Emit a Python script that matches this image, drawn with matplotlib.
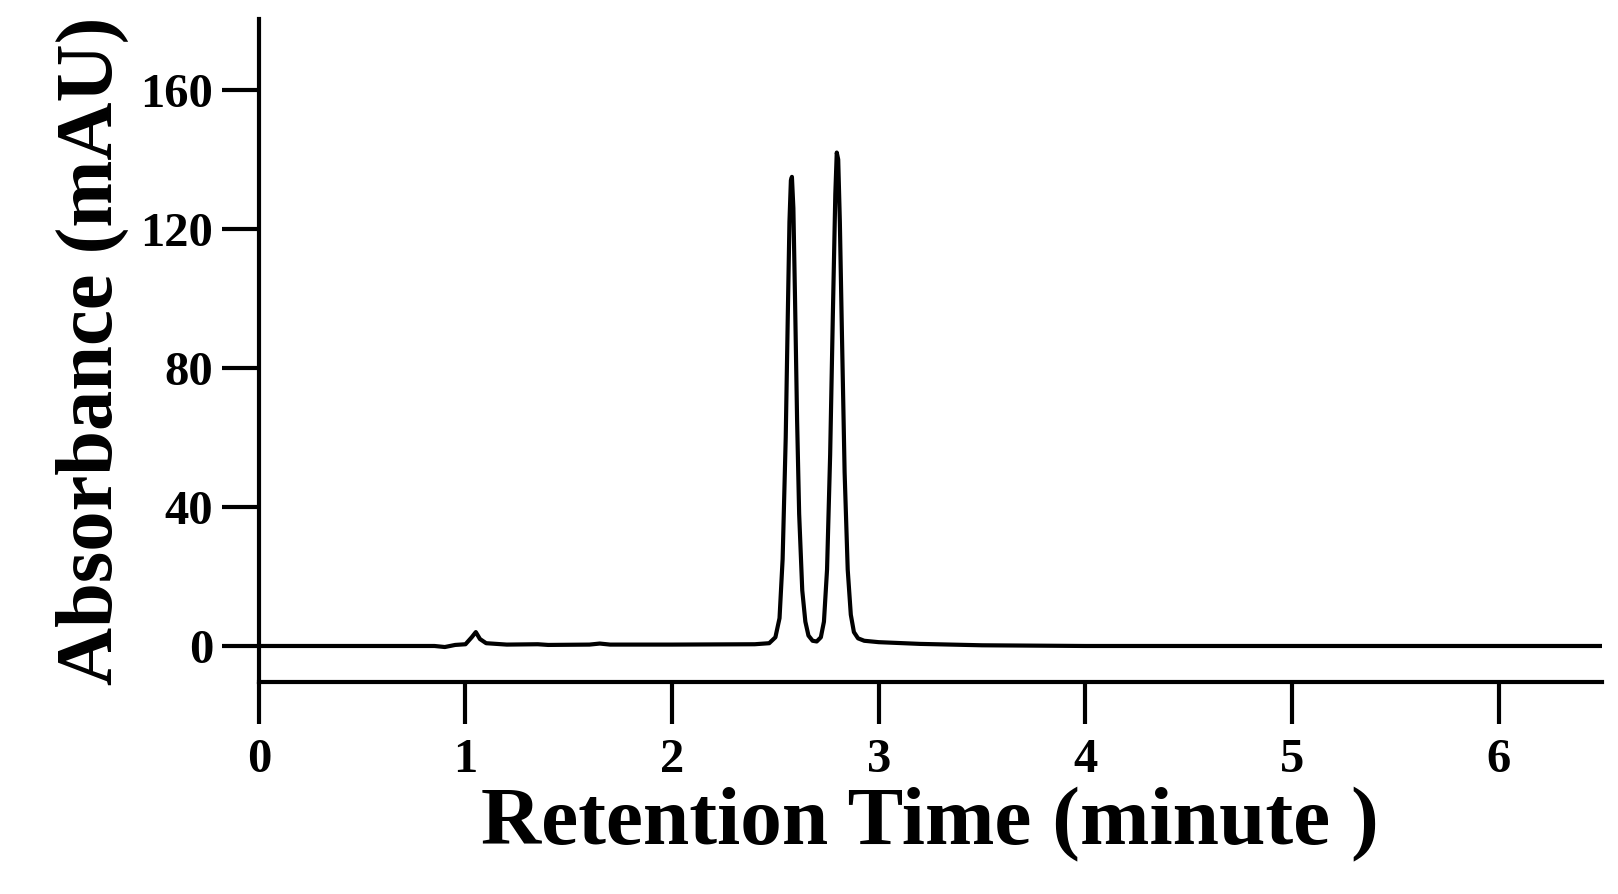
import matplotlib
matplotlib.use("Agg")
import matplotlib.pyplot as plt

time_min = [0, 0.85, 0.9, 0.95, 1.0, 1.03, 1.05, 1.07, 1.1, 1.2, 1.35, 1.4, 1.6, 1.65, 1.7, 2.0, 2.4,
            2.47, 2.5, 2.52, 2.535, 2.55, 2.56, 2.568, 2.575, 2.58, 2.587, 2.595, 2.605, 2.615, 2.63,
            2.645, 2.66, 2.68, 2.7, 2.72, 2.735, 2.75, 2.765, 2.778, 2.79, 2.797, 2.804, 2.812, 2.822,
            2.835, 2.85, 2.865, 2.88, 2.9, 2.93, 3.0, 3.2, 3.5, 4.0, 6.5]
absorbance = [0, 0, -0.3, 0.3, 0.5, 2.5, 4.0, 2.0, 0.8, 0.4, 0.5, 0.3, 0.4, 0.7, 0.4, 0.4, 0.5,
              0.8, 2.5, 8, 25, 60, 95, 122, 134, 135, 126, 100, 65, 38, 16,
              7, 3, 1.5, 1.3, 2.5, 7, 22, 55, 95, 130, 142, 140, 122, 90,
              50, 22, 9, 4, 2.2, 1.5, 1.1, 0.6, 0.2, 0, 0]
xticks = [0, 1, 2, 3, 4, 5, 6]
yticks = [0, 40, 80, 120, 160]

plt.rcParams['font.family'] = ['Liberation Serif', 'DejaVu Serif']
plt.rcParams['font.weight'] = 'bold'
fig = plt.figure(figsize=(16.18, 8.94), dpi=100)
ax = fig.add_axes([0.160, 0.237, 0.830, 0.742])
ax.plot(time_min, absorbance, color='black', lw=3)
ax.set_xlim(0, 6.5)
ax.set_ylim(-10.4, 180.5)
ax.set_xticks(xticks)
ax.set_yticks(yticks)
for s in ['top', 'right']:
    ax.spines[s].set_visible(False)
for s in ['left', 'bottom']:
    ax.spines[s].set_linewidth(3)
ax.tick_params(axis='x', direction='out', length=30, width=3, labelsize=35, pad=10)
ax.tick_params(axis='y', direction='out', length=27, width=3, labelsize=35, pad=6)
for lab in ax.get_xticklabels() + ax.get_yticklabels():
    lab.set_fontweight('bold')
ax.set_xlabel('Retention Time (minute )', fontsize=60, fontweight='bold', labelpad=4)
ax.set_ylabel('Absorbance (mAU)', fontsize=58, fontweight='bold', labelpad=8)
fig.savefig('out.png', dpi=100)
